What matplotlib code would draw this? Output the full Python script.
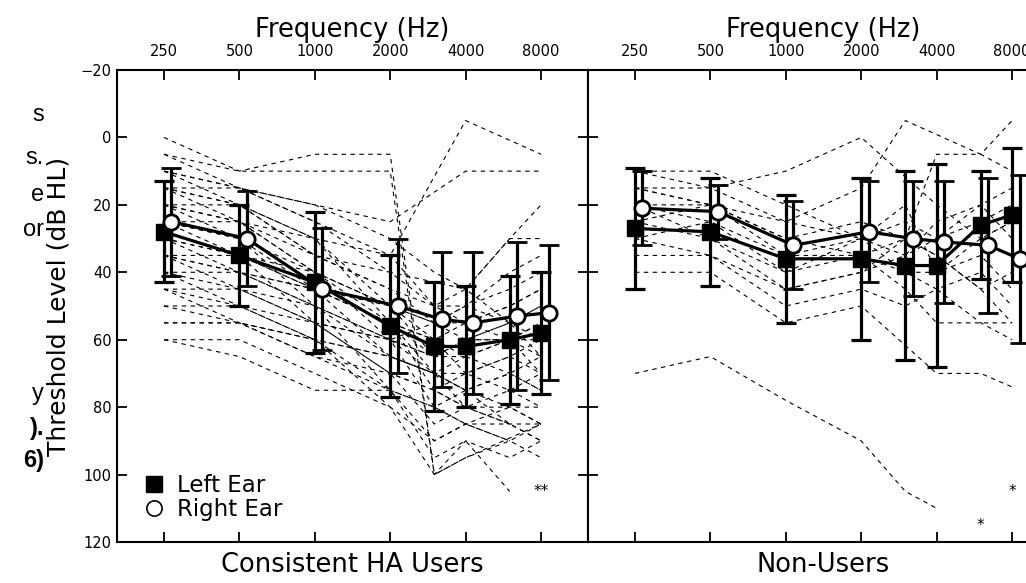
import matplotlib
matplotlib.use("Agg")
import matplotlib.pyplot as plt
import numpy as np

nan = np.nan

#===============================================================
#=               Data                                          =
#===============================================================
freqs = [250, 500, 1000, 2000, 3000, 4000, 6000, 8000]
tick_freqs = [250, 500, 1000, 2000, 4000, 8000]
tick_labels = ["250", "500", "1000", "2000", "4000", "8000"]
yticks = [-20, 0, 20, 40, 60, 80, 100, 120]

# Consistent HA users: group means and SDs (dB HL)
ha_left_mean = [28, 35, 43, 56, 62, 62, 60, 58]
ha_left_sd = [15, 15, 21, 21, 19, 18, 19, 18]
ha_right_mean = [25, 30, 45, 50, 54, 55, 53, 52]
ha_right_sd = [16, 14, 18, 20, 20, 21, 22, 20]

# Non-users: group means and SDs (dB HL)
nu_left_mean = [27, 28, 36, 36, 38, 38, 26, 23]
nu_left_sd = [18, 16, 19, 24, 28, 30, 16, 20]
nu_right_mean = [21, 22, 32, 28, 30, 31, 32, 36]
nu_right_sd = [11, 8, 13, 15, 17, 18, 20, 25]

# individual audiograms, HA users
ha_indiv = [
    [0, 10, 5, 5, 100, 95, nan, 85],
    [5, 10, 10, 10, 100, 90, 95, 90],
    [15, 20, 30, 35, nan, -5, nan, 5],
    [10, 15, 20, 25, nan, 10, nan, 10],
    [10, 15, 25, 40, nan, 45, 30, 20],
    [15, 20, 35, 45, 55, 50, 40, 35],
    [15, 25, 30, 50, 60, 55, 50, 45],
    [20, 25, 40, 50, 55, 60, 55, 50],
    [20, 30, 45, 55, 65, 65, 60, 55],
    [20, 20, 35, 40, 50, 50, 55, 60],
    [25, 30, 40, 60, 65, 60, 60, 65],
    [25, 35, 45, 55, 60, 70, 65, 60],
    [25, 30, 50, 65, 70, 75, 70, 75],
    [30, 35, 45, 50, 55, 55, 50, 45],
    [30, 40, 50, 60, 70, 70, 65, 70],
    [30, 35, 55, 70, 75, 80, 75, 80],
    [35, 40, 45, 55, 60, 65, 70, 75],
    [35, 45, 55, 70, 85, 80, 80, 80],
    [35, 40, 50, 75, 90, 85, 85, 85],
    [40, 45, 55, 60, 65, 60, 60, 55],
    [40, 50, 60, 75, 95, 90, 105, nan],
    [45, 50, 60, 80, 100, 95, 90, 85],
    [45, 55, 65, 70, 75, 70, 75, 70],
    [50, 50, 55, 60, 55, 50, 45, 40],
    [50, 55, 60, 65, 70, 65, 60, 60],
    [55, 55, 60, 65, 70, 75, 80, 85],
    [55, 55, 65, 75, 80, 85, 90, 95],
    [60, 65, 75, 75, 80, 85, 90, nan],
    [20, 25, 35, 45, 50, 45, 30, 30],
    [10, 20, 30, 55, 75, 80, 85, 90],
    [5, 15, 20, 30, 40, 45, 55, 65],
    [15, 15, 25, 35, 50, 55, 60, 70],
    [25, 25, 40, 55, 70, 75, 85, 90],
    [35, 35, 40, 50, 65, 60, 55, 50],
    [45, 45, 50, 60, 80, 75, 70, 65],
    [40, 40, 45, 65, 70, 80, 85, nan],
    [60, 60, 70, 80, 90, 85, 80, 85],
]

# individual audiograms, non-users
nu_indiv = [
    [10, 10, 20, 30, 35, 30, 25, 20],
    [10, 15, 10, 0, nan, 20, 30, 25],
    [15, 15, 25, 15, -5, nan, 5, -5],
    [15, 20, 30, 25, 30, 5, 5, 10],
    [20, 20, 25, 30, 25, 30, 20, 15],
    [20, 25, 35, 35, 40, 40, 30, 25],
    [25, 20, 30, 35, 30, 35, 45, 40],
    [25, 30, 45, 40, 35, 25, 20, 30],
    [30, 25, 40, 30, 40, 45, 40, 50],
    [30, 35, 50, 45, 50, 45, 55, 60],
    [35, 35, 45, 40, 30, 35, 45, 55],
    [40, 40, 55, 50, nan, 70, 70, 74],
    [20, 30, 40, 35, 45, 55, 55, 55],
    [70, 65, 78, 90, 105, 110, nan, nan],
    [15, 20, 35, 30, 20, 40, 35, 45],
]

# no-response marks (freq, level, text)
ha_marks = [(8000, 105, "**")]
nu_marks = [(6000, 115, "*"), (8000, 105, "*")]

# cut-off text of the neighbouring column
side_text = [("s", 115, "normal"), ("s.", 158, "normal"), ("e", 195, "normal"),
             ("or", 230, "normal"), ("y", 394, "normal"), (").", 428, "bold"),
             ("6)", 461, "bold")]

#===============================================================
#=               Plot                                          =
#===============================================================
W, H = 1026, 583
fig = plt.figure(figsize=(W / 100, H / 100), dpi=100)
plt.rcParams['font.family'] = ['DejaVu Sans']

ax1 = fig.add_axes([117 / W, 1 - 542 / H, 471 / W, 472 / H])
ax2 = fig.add_axes([588 / W, 1 - 542 / H, 471 / W, 472 / H])

off = 2 ** 0.1
f = np.array(freqs, dtype=float)


def draw_panel(ax, indiv, lm, lsd, rm, rsd, marks, name):
    for row in indiv:
        row = np.array(row, dtype=float)
        ok = ~np.isnan(row)
        ax.plot(f[ok], row[ok], color="k", lw=0.8, ls=(0, (4, 4)), zorder=1)
    ax.errorbar(f, lm, yerr=lsd, color="k", lw=2.3, capsize=7, capthick=2.3,
                marker="s", ms=11, mfc="k", mec="k", zorder=3)
    ax.errorbar(f * off, rm, yerr=rsd, color="k", lw=2.3, capsize=7, capthick=2.3,
                marker="o", ms=11, mfc="white", mec="k", mew=2, zorder=4)
    for fx, lev, t in marks:
        ax.text(fx, lev, t, ha="center", va="center", fontsize=11)

    ax.set_xscale("log", base=2)
    ax.set_xlim(250 / 2 ** 0.6225, 8000 * 2 ** 0.6225)
    ax.set_ylim(120, -20)
    ax.set_xticks(tick_freqs)
    ax.set_xticklabels(tick_labels)
    ax.xaxis.set_minor_locator(matplotlib.ticker.NullLocator())
    ax.set_yticks(yticks)
    ax.tick_params(axis="x", which="both", direction="in", top=True, bottom=True,
                   labeltop=True, labelbottom=False, length=7, width=1.3,
                   labelsize=10.5, pad=8)
    ax.tick_params(axis="y", direction="in", left=True, right=True,
                   length=7, width=1.3, labelsize=10.5, pad=4)
    ax.xaxis.set_label_position("top")
    ax.set_xlabel("Frequency (Hz)", fontsize=18.5, labelpad=5)
    ax.text(0.5, -0.022, name, transform=ax.transAxes, ha="center", va="top",
            fontsize=18.5)
    for s in ax.spines.values():
        s.set_linewidth(1.5)


draw_panel(ax1, ha_indiv, ha_left_mean, ha_left_sd, ha_right_mean, ha_right_sd,
           ha_marks, "Consistent HA Users")
draw_panel(ax2, nu_indiv, nu_left_mean, nu_left_sd, nu_right_mean, nu_right_sd,
           nu_marks, "Non-Users")
ax2.tick_params(axis="y", labelleft=False)

ax1.set_ylabel("Threshold Level (dB HL)", fontsize=18)
ax1.yaxis.set_label_coords(-0.098, 0.5)

# legend
lh = [plt.Line2D([], [], ls="none", marker="s", ms=11, mfc="k", mec="k"),
      plt.Line2D([], [], ls="none", marker="o", ms=11, mfc="white", mec="k", mew=1.2)]
ax1.legend(lh, ["Left Ear", "Right Ear"], loc="lower left", frameon=False,
           fontsize=16.5, handlelength=0.8, handletextpad=0.6, labelspacing=0.05,
           borderaxespad=0.2, bbox_to_anchor=(0.03, 0.015))

for t, y, w in side_text:
    fig.text(44 / W, 1 - y / H, t, ha="right", va="center", fontsize=17,
             fontweight=w, family=["Liberation Sans", "DejaVu Sans"])

fig.savefig("out.png", dpi=100)
